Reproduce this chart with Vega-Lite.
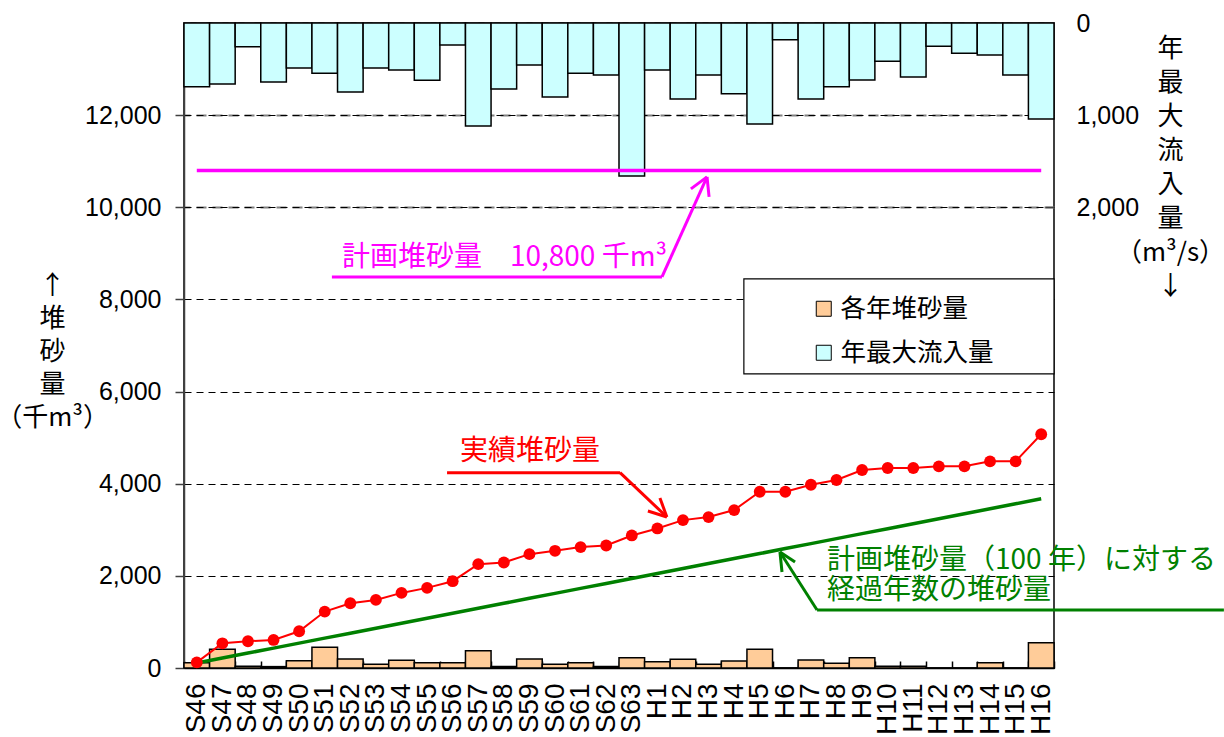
{
  "$schema": "https://vega.github.io/schema/vega-lite/v6.json",
  "width": 870,
  "height": 645,
  "autosize": {"type": "none"},
  "padding": {"left": 184, "top": 23, "right": 170, "bottom": 69},
  "background": "white",
  "config": {
    "view": {"stroke": "black", "strokeWidth": 1.5},
    "font": "Liberation Sans"
  },
  "datasets": {
    "years": [
      {"year": "S46", "annual": 115, "actual": 123, "planned": 108, "inflow": 692, "planTotal": 10800},
      {"year": "S47", "annual": 407, "actual": 536, "planned": 216, "inflow": 662, "planTotal": 10800},
      {"year": "S48", "annual": 40, "actual": 580, "planned": 324, "inflow": 257, "planTotal": 10800},
      {"year": "S49", "annual": 30, "actual": 609, "planned": 432, "inflow": 641, "planTotal": 10800},
      {"year": "S50", "annual": 160, "actual": 797, "planned": 540, "inflow": 489, "planTotal": 10800},
      {"year": "S51", "annual": 450, "actual": 1225, "planned": 648, "inflow": 546, "planTotal": 10800},
      {"year": "S52", "annual": 195, "actual": 1406, "planned": 756, "inflow": 749, "planTotal": 10800},
      {"year": "S53", "annual": 80, "actual": 1478, "planned": 864, "inflow": 489, "planTotal": 10800},
      {"year": "S54", "annual": 167, "actual": 1630, "planned": 972, "inflow": 510, "planTotal": 10800},
      {"year": "S55", "annual": 116, "actual": 1739, "planned": 1080, "inflow": 622, "planTotal": 10800},
      {"year": "S56", "annual": 116, "actual": 1884, "planned": 1188, "inflow": 239, "planTotal": 10800},
      {"year": "S57", "annual": 376, "actual": 2254, "planned": 1296, "inflow": 1118, "planTotal": 10800},
      {"year": "S58", "annual": 35, "actual": 2290, "planned": 1404, "inflow": 717, "planTotal": 10800},
      {"year": "S59", "annual": 195, "actual": 2471, "planned": 1512, "inflow": 456, "planTotal": 10800},
      {"year": "S60", "annual": 80, "actual": 2544, "planned": 1620, "inflow": 803, "planTotal": 10800},
      {"year": "S61", "annual": 116, "actual": 2624, "planned": 1728, "inflow": 546, "planTotal": 10800},
      {"year": "S62", "annual": 35, "actual": 2659, "planned": 1836, "inflow": 565, "planTotal": 10800},
      {"year": "S63", "annual": 224, "actual": 2877, "planned": 1944, "inflow": 1661, "planTotal": 10800},
      {"year": "H1", "annual": 137, "actual": 3029, "planned": 2052, "inflow": 510, "planTotal": 10800},
      {"year": "H2", "annual": 188, "actual": 3210, "planned": 2160, "inflow": 825, "planTotal": 10800},
      {"year": "H3", "annual": 80, "actual": 3276, "planned": 2268, "inflow": 565, "planTotal": 10800},
      {"year": "H4", "annual": 152, "actual": 3428, "planned": 2376, "inflow": 768, "planTotal": 10800},
      {"year": "H5", "annual": 405, "actual": 3826, "planned": 2484, "inflow": 1097, "planTotal": 10800},
      {"year": "H6", "annual": 0, "actual": 3826, "planned": 2592, "inflow": 181, "planTotal": 10800},
      {"year": "H7", "annual": 174, "actual": 3978, "planned": 2700, "inflow": 825, "planTotal": 10800},
      {"year": "H8", "annual": 101, "actual": 4080, "planned": 2808, "inflow": 692, "planTotal": 10800},
      {"year": "H9", "annual": 224, "actual": 4298, "planned": 2916, "inflow": 619, "planTotal": 10800},
      {"year": "H10", "annual": 40, "actual": 4341, "planned": 3024, "inflow": 416, "planTotal": 10800},
      {"year": "H11", "annual": 40, "actual": 4341, "planned": 3132, "inflow": 586, "planTotal": 10800},
      {"year": "H12", "annual": 0, "actual": 4377, "planned": 3240, "inflow": 252, "planTotal": 10800},
      {"year": "H13", "annual": 0, "actual": 4377, "planned": 3348, "inflow": 329, "planTotal": 10800},
      {"year": "H14", "annual": 116, "actual": 4486, "planned": 3456, "inflow": 347, "planTotal": 10800},
      {"year": "H15", "annual": 0, "actual": 4486, "planned": 3564, "inflow": 565, "planTotal": 10800},
      {"year": "H16", "annual": 550, "actual": 5073, "planned": 3672, "inflow": 1042, "planTotal": 10800}
    ],
    "segments": [
      {"grp": "plan", "x": 5.78, "y": 8489, "x2": 18.68, "y2": 8489},
      {"grp": "plan", "x": 18.68, "y": 8489, "x2": 20.44, "y2": 10660},
      {"grp": "plan", "x": 20.44, "y": 10660, "x2": 19.81, "y2": 10399},
      {"grp": "plan", "x": 20.44, "y": 10660, "x2": 20.52, "y2": 10225},
      {"grp": "actual", "x": 10.28, "y": 4240, "x2": 17.04, "y2": 4240},
      {"grp": "actual", "x": 17.04, "y": 4240, "x2": 18.87, "y2": 3278},
      {"grp": "actual", "x": 18.87, "y": 3278, "x2": 18.13, "y2": 3408},
      {"grp": "actual", "x": 18.87, "y": 3278, "x2": 18.6, "y2": 3691},
      {"grp": "planned", "x": 24.74, "y": 1259, "x2": 40.64, "y2": 1259},
      {"grp": "planned", "x": 24.74, "y": 1259, "x2": 23.29, "y2": 2518},
      {"grp": "planned", "x": 23.29, "y": 2518, "x2": 23.37, "y2": 2084},
      {"grp": "planned", "x": 23.29, "y": 2518, "x2": 23.88, "y2": 2301}
    ],
    "legendBox": [
      {"x": 21.88, "x2": 34, "y": 8445, "y2": 6383}
    ],
    "labels": [
      {"grp": "plan", "x": 6.17, "y": 8901, "text": "計画堆砂量　10,800 千m³"},
      {"grp": "actual", "x": 10.79, "y": 4689, "text": "実績堆砂量"},
      {"grp": "planned", "x": 25.13, "y": 2323, "text": "計画堆砂量（100 年）に対する"},
      {"grp": "planned", "x": 25.13, "y": 1672, "text": "経過年数の堆砂量"}
    ]
  },
  "layer": [
    {
      "data": {"name": "years"},
      "mark": {"type": "bar", "stroke": "black", "strokeWidth": 1.5},
      "encoding": {
        "x": {"field": "year", "type": "nominal", "sort": null, "scale": {"paddingInner": 0, "paddingOuter": 0}, "axis": null},
        "y": {
          "field": "inflow", "type": "quantitative",
          "scale": {"domain": [0, 7000], "reverse": true, "nice": false},
          "axis": {
            "orient": "right", "values": [0, 1000, 2000], "format": ",.0f",
            "labelFont": "Liberation Sans", "labelFontSize": 25, "labelColor": "black", "labelPadding": 31,
            "ticks": true, "tickSize": -9, "tickColor": "#404040", "tickWidth": 1.5, "domain": false,
            "grid": true, "gridColor": "#808080", "gridDash": [10, 6], "gridWidth": 2,
            "title": ["年", "最", "大", "流", "入", "量", "（m³/s）", "↓"],
            "titleFont": "Noto Sans CJK JP", "titleFontSize": 26, "titleFontWeight": "normal", "titleColor": "black",
            "titleAngle": 0, "titleAlign": "center", "titleBaseline": "top", "titleLineHeight": 34,
            "titleX": 116, "titleY": 12
          }
        },
        "color": {
          "datum": "年最大流入量",
          "scale": {"domain": ["各年堆砂量", "年最大流入量"], "range": ["#FFCC99", "#CCFFFF"]},
          "legend": {
            "orient": "none", "legendX": 627, "legendY": 273, "title": null,
            "symbolType": "square", "symbolSize": 225, "symbolStrokeColor": "black", "symbolStrokeWidth": 1,
            "labelFont": "Noto Sans CJK JP", "labelFontSize": 25.5, "labelColor": "black", "labelOffset": 4,
            "rowPadding": 17, "padding": 0
          }
        }
      }
    },
    {
      "data": {"name": "years"},
      "encoding": {
        "x": {
          "field": "year", "type": "nominal", "sort": null,
          "scale": {"paddingInner": 0, "paddingOuter": 0},
          "axis": {
            "title": null, "labelAngle": 270, "labelAlign": "right", "labelBaseline": "middle",
            "labelFont": "Liberation Sans", "labelFontSize": 28, "labelColor": "black", "labelPadding": 22,
            "ticks": true, "tickBand": "extent", "tickSize": -7, "tickColor": "black", "tickWidth": 1.5,
            "domainColor": "black", "domainWidth": 1.5
          }
        }
      },
      "layer": [
        {
          "mark": {"type": "bar", "stroke": "black", "strokeWidth": 1.5},
          "encoding": {
            "y": {
              "field": "annual", "type": "quantitative",
              "scale": {"domain": [0, 14000], "nice": false},
              "axis": {
                "values": [0, 2000, 4000, 6000, 8000, 10000, 12000], "format": ",.0f",
                "labelFont": "Liberation Sans", "labelFontSize": 25, "labelColor": "black", "labelPadding": 14,
                "tickSize": 9, "tickColor": "#404040", "tickWidth": 1.5,
                "domainColor": "#404040", "domainWidth": 1.5,
                "grid": true, "gridColor": "black", "gridDash": [7, 5], "gridWidth": 1,
                "title": ["↑", "堆", "砂", "量", "（千m³）"],
                "titleFont": "Noto Sans CJK JP", "titleFontSize": 26, "titleFontWeight": "normal", "titleColor": "black",
                "titleAngle": 0, "titleAlign": "center", "titleBaseline": "top", "titleLineHeight": 33,
                "titleX": -132, "titleY": 249
              }
            },
            "color": {"datum": "各年堆砂量"}
          }
        },
        {
          "mark": {"type": "line", "color": "#FF00FF", "strokeWidth": 3.5},
          "encoding": {"y": {"field": "planTotal", "type": "quantitative"}}
        },
        {
          "mark": {"type": "line", "color": "#008000", "strokeWidth": 3.5},
          "encoding": {"y": {"field": "planned", "type": "quantitative"}}
        },
        {
          "mark": {"type": "line", "color": "#FF0000", "strokeWidth": 2, "point": {"filled": true, "size": 140, "color": "#FF0000"}},
          "encoding": {"y": {"field": "actual", "type": "quantitative"}}
        }
      ]
    },
    {
      "encoding": {
        "x": {"field": "x", "type": "quantitative", "scale": {"domain": [0, 34], "nice": false, "zero": false}, "axis": null},
        "y": {"field": "y", "type": "quantitative", "scale": {"domain": [0, 14000], "nice": false}, "axis": null}
      },
      "layer": [
        {
          "data": {"name": "legendBox"},
          "mark": {"type": "rect", "fill": "white", "stroke": "black", "strokeWidth": 1.2},
          "encoding": {"x2": {"field": "x2"}, "y2": {"field": "y2"}}
        },
        {
          "data": {"name": "segments"},
          "transform": [{"filter": "datum.grp == 'plan'"}],
          "mark": {"type": "rule", "color": "#FF00FF", "strokeWidth": 3},
          "encoding": {"x2": {"field": "x2"}, "y2": {"field": "y2"}}
        },
        {
          "data": {"name": "segments"},
          "transform": [{"filter": "datum.grp == 'actual'"}],
          "mark": {"type": "rule", "color": "#FF0000", "strokeWidth": 3},
          "encoding": {"x2": {"field": "x2"}, "y2": {"field": "y2"}}
        },
        {
          "data": {"name": "segments"},
          "transform": [{"filter": "datum.grp == 'planned'"}],
          "mark": {"type": "rule", "color": "#008000", "strokeWidth": 3},
          "encoding": {"x2": {"field": "x2"}, "y2": {"field": "y2"}}
        },
        {
          "data": {"name": "labels"},
          "transform": [{"filter": "datum.grp == 'plan'"}],
          "mark": {"type": "text", "color": "#FF00FF", "font": "Noto Sans CJK JP", "fontSize": 28, "align": "left", "baseline": "middle"},
          "encoding": {"text": {"field": "text"}}
        },
        {
          "data": {"name": "labels"},
          "transform": [{"filter": "datum.grp == 'actual'"}],
          "mark": {"type": "text", "color": "#FF0000", "font": "Noto Sans CJK JP", "fontSize": 28, "align": "left", "baseline": "middle"},
          "encoding": {"text": {"field": "text"}}
        },
        {
          "data": {"name": "labels"},
          "transform": [{"filter": "datum.grp == 'planned'"}],
          "mark": {"type": "text", "color": "#008000", "font": "Noto Sans CJK JP", "fontSize": 28, "align": "left", "baseline": "middle"},
          "encoding": {"text": {"field": "text"}}
        }
      ]
    }
  ],
  "resolve": {"scale": {"x": "independent", "y": "independent"}}
}
